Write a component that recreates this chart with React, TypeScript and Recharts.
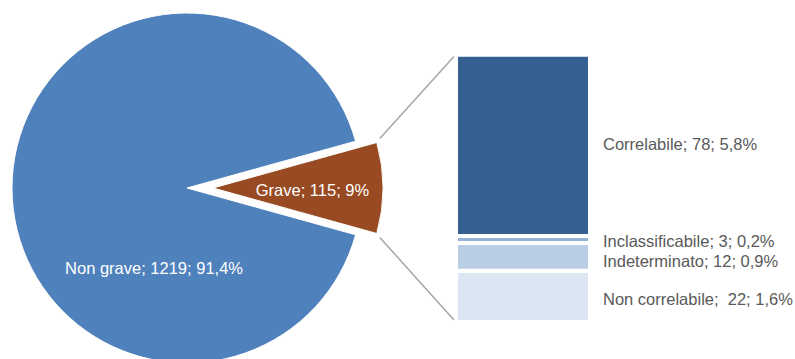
import React from 'react';
import { PieChart, Pie, Cell, BarChart, Bar, XAxis, YAxis, LabelList } from 'recharts';

// ---- data ----
const pieNames = ['Grave', 'Non grave'];
const pieValues = [115, 1219];
const piePercents = ['9%', '91,4%'];

const barNames = ['Non correlabile', 'Indeterminato', 'Inclassificabile', 'Correlabile'];
const barValues = [22, 12, 3, 78];
const barPercents = ['1,6%', '0,9%', '0,2%', '5,8%'];
const barSeparators = [';  ', '; ', '; ', '; '];

// ---- styles / layout ----
const W = 795;
const H = 359;
const FONT = '"Liberation Sans", Arial, sans-serif';
const FS = 16.5;
const pieColors = ['#984B23', '#4F81BD'];
const barColors = ['#DCE6F2', '#B9CDE5', '#95B3D7', '#376092'];
const barLabelDy = [2.6, 4, 1.2, -1.4];

const pieData = pieNames.map((name, i) => ({ name, value: pieValues[i], pct: piePercents[i] }));
const pieTotal = pieValues.reduce((a, b) => a + b, 0);
const halfGrave = (pieValues[0] / pieTotal) * 180;
const startAngle = halfGrave;
const endAngle = halfGrave - 360;

const barRow: Record<string, any> = { name: 'Grave' };
barNames.forEach((n, i) => {
  barRow[n] = barValues[i];
});
const barData = [barRow];
const barTotal = barValues.reduce((a, b) => a + b, 0);

const RAD = Math.PI / 180;

const mainCx = 187;
const mainCy = 188;
const mainR = 175;
const gravCx = 213;
const gravR = 170;

const renderGraveLabel = (p: any) => {
  if (p.index !== 0) return null;
  const r = p.outerRadius * 0.585;
  const x = p.cx + r * Math.cos(-p.midAngle * RAD);
  const y = p.cy + r * Math.sin(-p.midAngle * RAD) + 2;
  return (
    <text x={x} y={y} fill="#FFFFFF" fontSize={FS} fontFamily={FONT} textAnchor="middle" dominantBaseline="central">
      {`${p.payload.name}; ${p.payload.value}; ${p.payload.pct}`}
    </text>
  );
};

const renderMainLabel = (p: any) => {
  if (p.index !== 1) return null;
  const ang = -112.4;
  const r = 86.5;
  const x = p.cx + r * Math.cos(-ang * RAD);
  const y = p.cy + r * Math.sin(-ang * RAD);
  return (
    <text x={x} y={y} fill="#FFFFFF" fontSize={FS} fontFamily={FONT} textAnchor="middle" dominantBaseline="central">
      {`${p.payload.name}; ${p.payload.value}; ${p.payload.pct}`}
    </text>
  );
};

const makeBarLabel = (i: number) => (props: any) => {
  const { x, y, width, height } = props;
  return (
    <text
      x={Number(x) + Number(width) + 13}
      y={Number(y) + Number(height) / 2 + barLabelDy[i]}
      fill="#595959"
      fontSize={FS}
      fontFamily={FONT}
      dominantBaseline="central"
      style={{ whiteSpace: 'pre' }}
    >
      {`${barNames[i]}${barSeparators[i]}${barValues[i]}; ${barPercents[i]}`}
    </text>
  );
};

export default function App() {
  const topCorner = {
    x: gravCx + gravR * Math.cos(halfGrave * RAD),
    y: mainCy - gravR * Math.sin(halfGrave * RAD),
  };
  const botCorner = {
    x: gravCx + gravR * Math.cos(halfGrave * RAD),
    y: mainCy + gravR * Math.sin(halfGrave * RAD),
  };
  return (
    <div style={{ position: 'absolute', left: 0, top: 0, width: W, height: H, background: '#fff' }}>
      <div style={{ position: 'absolute', left: 0, top: 0 }}>
        <PieChart width={W} height={H} margin={{ top: 0, right: 0, bottom: 0, left: 0 }}>
          <Pie
            data={pieData}
            dataKey="value"
            nameKey="name"
            cx={mainCx}
            cy={mainCy}
            outerRadius={mainR}
            startAngle={startAngle}
            endAngle={endAngle}
            isAnimationActive={false}
            label={renderMainLabel}
            labelLine={false}
          >
            {pieData.map((d, i) => (
              <Cell key={d.name} fill={i === 1 ? pieColors[1] : 'none'} stroke={i === 1 ? '#fff' : 'none'} />
            ))}
          </Pie>
          <Pie
            data={pieData}
            dataKey="value"
            nameKey="name"
            cx={gravCx}
            cy={mainCy}
            outerRadius={gravR}
            startAngle={startAngle}
            endAngle={endAngle}
            isAnimationActive={false}
            label={renderGraveLabel}
            labelLine={false}
          >
            {pieData.map((d, i) => (
              <Cell key={d.name} fill={i === 0 ? pieColors[0] : 'none'} stroke={i === 0 ? '#fff' : 'none'} />
            ))}
          </Pie>
        </PieChart>
      </div>
      <svg width={W} height={H} style={{ position: 'absolute', left: 0, top: 0 }}>
        <line x1={topCorner.x + 3} y1={topCorner.y - 4} x2={454} y2={56.5} stroke="#A6A6A6" strokeWidth={1.5} />
        <line x1={botCorner.x + 3} y1={botCorner.y + 4} x2={454} y2={320} stroke="#A6A6A6" strokeWidth={1.5} />
      </svg>
      <div style={{ position: 'absolute', left: 0, top: 0 }}>
        <BarChart
          width={W}
          height={H}
          data={barData}
          margin={{ top: 54.7, bottom: 37, left: 456, right: 205 }}
          barCategoryGap={0}
        >
          <XAxis dataKey="name" hide />
          <YAxis hide domain={[0, barTotal]} />
          {barNames.map((n, i) => (
            <Bar
              key={n}
              dataKey={n}
              stackId="a"
              fill={barColors[i]}
              stroke="#FFFFFF"
              strokeWidth={4}
              isAnimationActive={false}
            >
              <LabelList dataKey={n} content={makeBarLabel(i)} />
            </Bar>
          ))}
        </BarChart>
      </div>
    </div>
  );
}
